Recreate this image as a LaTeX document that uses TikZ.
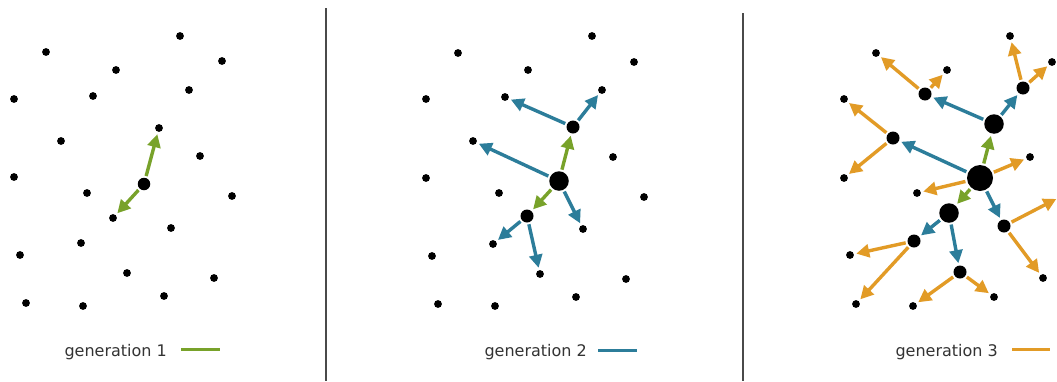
\documentclass[tikz,border=0pt]{standalone}
\usepackage{fontspec}
\setmainfont{DejaVu Sans}
\usetikzlibrary{arrows.meta}
\definecolor{genone}{HTML}{78A22A}
\definecolor{gentwo}{HTML}{2C7D9A}
\definecolor{genthree}{HTML}{E29B26}
\definecolor{sepcol}{HTML}{4A4A4A}
\definecolor{legtext}{HTML}{333333}
\begin{document}
\begin{tikzpicture}[x=1pt,y=-1pt,
  dot/.style={circle,fill=black,inner sep=0pt,outer sep=0pt,minimum size=7.8pt},
  dotA/.style={dot,minimum size=12.5pt},
  dotB/.style={dot,minimum size=13pt},
  dotC/.style={dot,minimum size=19.5pt},
  dotD/.style={dot,minimum size=26pt},
  arr/.style={line width=3.4pt,-{Triangle[length=13pt,width=13pt]},shorten >=2.5pt,shorten <=2pt},
  ga/.style={arr,draw=genone,fill=genone},
  ba/.style={arr,draw=gentwo,fill=gentwo},
  oa/.style={arr,draw=genthree,fill=genthree},
  sepline/.style={draw=sepcol,line width=1.4pt},
  legline/.style={line width=3pt},
  legend/.style={anchor=base east,inner sep=0pt,text=legtext,font=\fontsize{16}{19}\selectfont}
]
\fill[white] (0,0) rectangle (1057,381);
\clip (0,0) rectangle (1057,381);

% separators
\coordinate (s1t) at (326,8);  \coordinate (s1b) at (326,381);
\coordinate (s2t) at (743,13); \coordinate (s2b) at (743,381);
\draw[sepline] (s1t) -- (s1b);
\draw[sepline] (s2t) -- (s2b);

% ---------- panel 1 ----------
\foreach \n/\x/\y in {1/46/52,2/180/36,3/222/61,4/116/70,5/14/99,6/93/96,7/189/90,8/159/128,9/61/141,10/200/156,11/14/177,13/87/193,14/232/196,15/113/218,16/171/228,17/81/243,18/20/255,19/127/273,20/214/278,21/26/303,22/83/306,23/164/296}
  \node[dot] (a\n) at (\x,\y) {};
\node[dotA] (a12) at (144,184) {};
\draw[ga] (a12) -- (a8);
\draw[ga] (a12) -- (a15);

% ---------- panel 2 ----------
\foreach \n/\x/\y in {1/458/53,2/592/36,3/634/62,4/528/70,5/426/99,6/505/97,7/602/90,9/473/141,10/613/157,11/426/178,13/499/193,14/644/197,16/583/229,17/493/244,18/432/256,19/540/274,20/626/279,21/438/304,22/495/306,23/576/297}
  \node[dot] (b\n) at (\x,\y) {};
\node[dotB] (b8) at (573,127) {};
\node[dotB] (b15) at (527,216) {};
\node[dotC] (b12) at (559,181) {};
\draw[ga] (b12) -- (b8);
\draw[ga] (b12) -- (b15);
\draw[ba] (b8) -- (b6);
\draw[ba] (b8) -- (b7);
\draw[ba] (b12) -- (b9);
\draw[ba] (b12) -- (b16);
\draw[ba] (b15) -- (b17);
\draw[ba] (b15) -- (b19);

% ---------- panel 3 ----------
\foreach \n/\x/\y in {1/876/53,2/1010/36,3/1052/62,4/947/70,5/844/99,10/1030/157,11/844/178,13/917/193,14/1062/196,18/850/255,20/1043/278,21/856/304,22/913/306,23/994/297}
  \node[dot] (c\n) at (\x,\y) {};
\foreach \n/\x/\y in {6/925/94,7/1023/88,9/893/138,16/1004/226,17/914/241,19/960/272}
  \node[dotB] (c\n) at (\x,\y) {};
\node[dotC] (c8) at (994,124) {};
\node[dotC] (c15) at (949,213) {};
\node[dotD] (c12) at (980,178) {};
\draw[ga] (c12) -- (c8);
\draw[ga] (c12) -- (c15);
\draw[ba] (c8) -- (c6);
\draw[ba] (c8) -- (c7);
\draw[ba] (c12) -- (c9);
\draw[ba] (c12) -- (c16);
\draw[ba] (c15) -- (c17);
\draw[ba] (c15) -- (c19);
\draw[oa] (c6) -- (c1);
\draw[oa] (c6) -- (c4);
\draw[oa] (c7) -- (c2);
\draw[oa] (c7) -- (c3);
\draw[oa] (c9) -- (c5);
\draw[oa] (c9) -- (c11);
\draw[oa] (c12) -- (c10);
\draw[oa] (c12) -- (c13);
\draw[oa] (c16) -- (c14);
\draw[oa] (c16) -- (c20);
\draw[oa] (c17) -- (c18);
\draw[oa] (c17) -- (c21);
\draw[oa] (c19) -- (c22);
\draw[oa] (c19) -- (c23);

% ---------- legends ----------
\node[legend] (t1) at (167,356) {generation 1};
\coordinate (l1a) at (181,349); \coordinate (l1b) at (220,349);
\draw[legline,genone] (l1a) -- (l1b);
\node[legend] (t2) at (587,356) {generation 2};
\coordinate (l2a) at (598,350); \coordinate (l2b) at (637,350);
\draw[legline,gentwo] (l2a) -- (l2b);
\node[legend] (t3) at (998,356) {generation 3};
\coordinate (l3a) at (1012,349); \coordinate (l3b) at (1050,349);
\draw[legline,genthree] (l3a) -- (l3b);
\end{tikzpicture}
\end{document}
